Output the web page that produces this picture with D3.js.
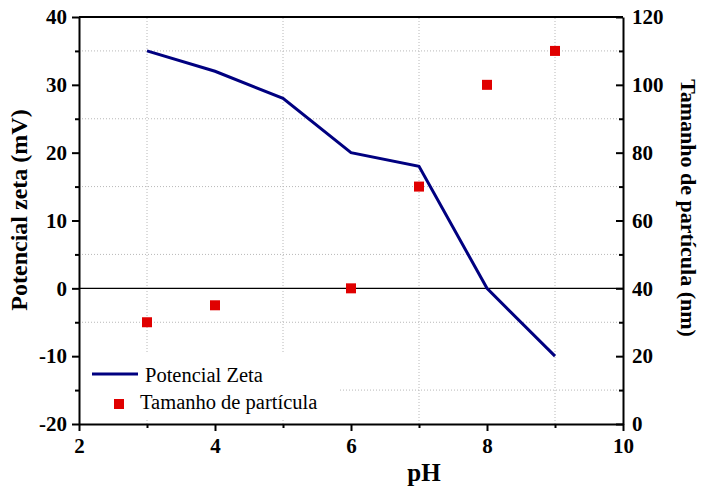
<!DOCTYPE html>
<html>
<head>
<meta charset="utf-8">
<script src="https://cdn.jsdelivr.net/npm/d3@7"></script>
<style>
  body { margin: 0; background: #fff; }
  text { font-family: "Liberation Serif", "Times New Roman", serif; }
</style>
</head>
<body>
<svg id="chart" width="703" height="487"></svg>
<script>
// data
const phZeta = [3, 4, 5, 6, 7, 8, 9];
const zetaValues = [35, 32, 28, 20, 18, 0, -10];
const phSize = [3, 4, 6, 7, 8, 9];
const sizeValues = [30, 35, 40, 70, 100, 110];
const xTicks = [2, 4, 6, 8, 10];
const xMinor = [3, 5, 7, 9];
const yLeftTicks = [-20, -10, 0, 10, 20, 30, 40];
const yLeftMinor = [-15, -5, 5, 15, 25, 35];
const yRightTicks = [0, 20, 40, 60, 80, 100, 120];
const yRightMinor = [10, 30, 50, 70, 90, 110];

const svg = d3.select('#chart');
const margin = {left: 79, right: 80, top: 17, bottom: 63};
const W = 703, H = 487;

const x = d3.scaleLinear().domain([2, 10]).range([margin.left, W - margin.right]);
const yL = d3.scaleLinear().domain([-20, 40]).range([H - margin.bottom, margin.top]);
const yR = d3.scaleLinear().domain([0, 120]).range([H - margin.bottom, margin.top]);

// dotted grid at the minor positions
const grid = svg.append('g').attr('class', 'grid');
grid.selectAll('line.v').data(xMinor).join('line')
    .attr('class', 'v')
    .attr('x1', d => x(d)).attr('x2', d => x(d))
    .attr('y1', yL(-20)).attr('y2', yL(40))
    .style('stroke', '#b8b8b8').style('stroke-width', 1).style('stroke-dasharray', '1,2');
grid.selectAll('line.h').data(yLeftMinor).join('line')
    .attr('class', 'h')
    .attr('x1', x(2)).attr('x2', x(10))
    .attr('y1', d => yL(d)).attr('y2', d => yL(d))
    .style('stroke', '#b8b8b8').style('stroke-width', 1).style('stroke-dasharray', '1,2');

// zero line
svg.append('line')
    .attr('x1', x(2)).attr('x2', x(10))
    .attr('y1', yL(0)).attr('y2', yL(0))
    .style('stroke', '#000').style('stroke-width', 1.2);

// zeta potential line
const zetaData = phZeta.map((p, i) => ({ph: p, v: zetaValues[i]}));
svg.append('path')
    .datum(zetaData)
    .attr('d', d3.line().x(d => x(d.ph)).y(d => yL(d.v)))
    .style('fill', 'none')
    .style('stroke', '#000080')
    .style('stroke-width', 3);

// particle size squares
const sq = 10;
const sizeData = phSize.map((p, i) => ({ph: p, v: sizeValues[i]}));
svg.selectAll('rect.size').data(sizeData).join('rect')
    .attr('class', 'size')
    .attr('x', d => x(d.ph) - sq / 2)
    .attr('y', d => yR(d.v) - sq / 2)
    .attr('width', sq).attr('height', sq)
    .style('fill', '#e00000');

// axes
const fmt = d => String(d);
const tickFont = g => g.selectAll('text')
    .style('font-family', '"Liberation Serif", serif')
    .style('font-size', '21px')
    .style('font-weight', 'bold')
    .style('fill', '#000');
const axisStyle = g => {
    g.select('.domain').style('stroke', '#000').style('stroke-width', 2);
    g.selectAll('.tick line').style('stroke', '#000').style('stroke-width', 2);
};

const xAxis = svg.append('g')
    .attr('transform', `translate(0,${yL(-20)})`)
    .call(d3.axisBottom(x).tickValues(xTicks).tickFormat(fmt).tickSize(7).tickSizeOuter(0).tickPadding(7));
xAxis.call(tickFont).call(axisStyle);
svg.append('g')
    .attr('transform', `translate(0,${yL(-20)})`)
    .call(d3.axisBottom(x).tickValues(xMinor).tickFormat('').tickSize(4).tickSizeOuter(0))
    .call(axisStyle).select('.domain').remove();

const yAxisL = svg.append('g')
    .attr('transform', `translate(${x(2)},0)`)
    .call(d3.axisLeft(yL).tickValues(yLeftTicks).tickFormat(fmt).tickSize(7).tickSizeOuter(0).tickPadding(5));
yAxisL.call(tickFont).call(axisStyle);
svg.append('g')
    .attr('transform', `translate(${x(2)},0)`)
    .call(d3.axisLeft(yL).tickValues(yLeftMinor).tickFormat('').tickSize(4).tickSizeOuter(0))
    .call(axisStyle).select('.domain').remove();

// right axis ticks point inward
const yAxisR = svg.append('g')
    .attr('transform', `translate(${x(10)},0)`)
    .call(d3.axisRight(yR).tickValues(yRightTicks).tickFormat(fmt).tickSize(-7).tickSizeOuter(0).tickPadding(9));
yAxisR.call(tickFont).call(axisStyle);
svg.append('g')
    .attr('transform', `translate(${x(10)},0)`)
    .call(d3.axisRight(yR).tickValues(yRightMinor).tickFormat('').tickSize(-4).tickSizeOuter(0))
    .call(axisStyle).select('.domain').remove();

// top frame line
svg.append('line')
    .attr('x1', x(2)).attr('x2', x(10))
    .attr('y1', yL(40)).attr('y2', yL(40))
    .style('stroke', '#000').style('stroke-width', 2);

// axis titles
svg.append('text')
    .attr('x', 424).attr('y', 481)
    .attr('text-anchor', 'middle')
    .style('font-size', '25px').style('font-weight', 'bold')
    .text('pH');
svg.append('text')
    .attr('transform', 'translate(27,210) rotate(-90)')
    .attr('text-anchor', 'middle')
    .style('font-size', '24px').style('font-weight', 'bold')
    .text('Potencial zeta (mV)');
svg.append('text')
    .attr('transform', 'translate(681,208) rotate(90)')
    .attr('text-anchor', 'middle')
    .style('font-size', '22px').style('font-weight', 'bold')
    .text('Tamanho de partícula (nm)');

// legend with white box hiding the grid
const legend = svg.append('g');
legend.append('rect')
    .attr('x', x(2) + 3).attr('y', 352)
    .attr('width', 258).attr('height', 66)
    .style('fill', '#fff');
legend.append('line')
    .attr('x1', 92).attr('x2', 138).attr('y1', 374).attr('y2', 374)
    .style('stroke', '#000080').style('stroke-width', 3);
legend.append('text')
    .attr('x', 145).attr('y', 382)
    .style('font-size', '20.5px')
    .text('Potencial Zeta');
legend.append('rect')
    .attr('x', 114).attr('y', 399).attr('width', sq).attr('height', sq)
    .style('fill', '#e00000');
legend.append('text')
    .attr('x', 140).attr('y', 409)
    .style('font-size', '20.5px')
    .text('Tamanho de partícula');
</script>
</body>
</html>
